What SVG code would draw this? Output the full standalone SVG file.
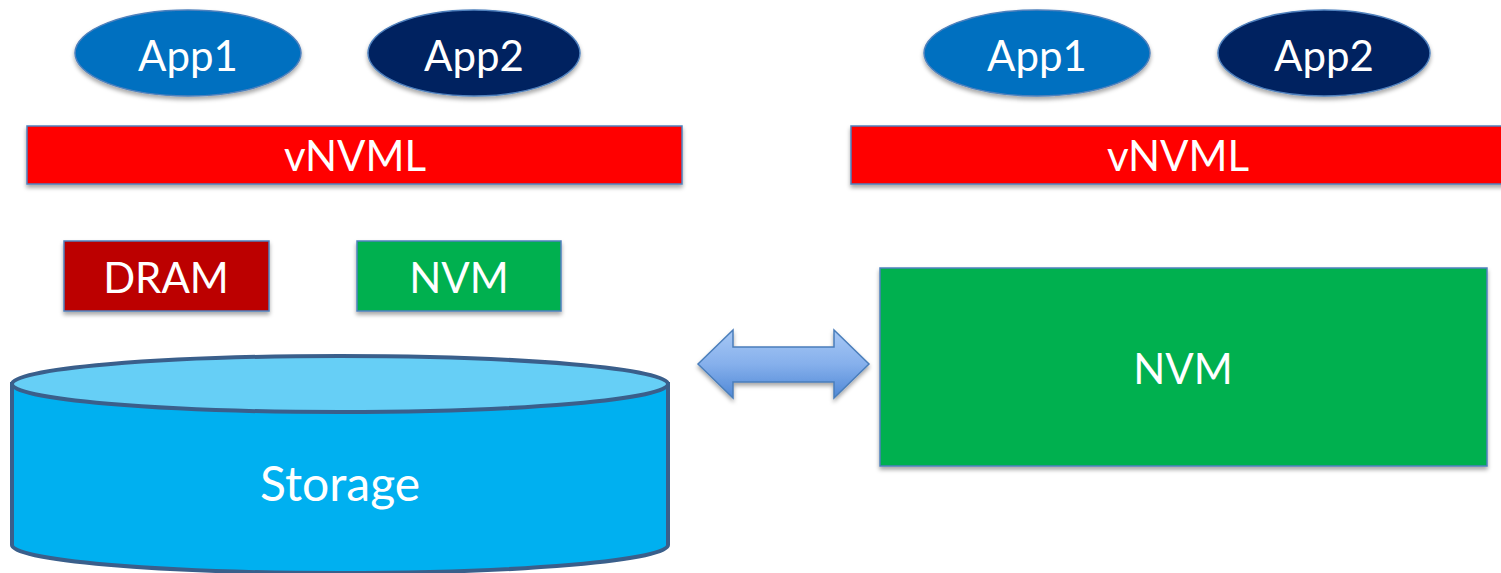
<svg xmlns="http://www.w3.org/2000/svg" width="1501" height="573" viewBox="0 0 1501 573">
  <defs>
    <filter id="shadow" x="-10%" y="-20%" width="120%" height="150%">
      <feDropShadow dx="0" dy="3" stdDeviation="2" flood-color="#000" flood-opacity="0.35"/>
    </filter>
    <linearGradient id="arrowFill" x1="0" y1="0" x2="0" y2="1">
      <stop offset="0" stop-color="#a7c8f5"/>
      <stop offset="0.5" stop-color="#86b0ec"/>
      <stop offset="1" stop-color="#4f88d6"/>
    </linearGradient>
  </defs>
  <style>
    .lbl { font-family: Lato, "Open Sans", "Liberation Sans", sans-serif; font-size: 42px; fill: #ffffff; text-anchor: middle; }
    .box { stroke: #4f81bd; stroke-width: 1.5; filter: url(#shadow); }
    .app1 { fill: #0070c0; }
    .app2 { fill: #002060; }
    .red { fill: #ff0000; }
    .dram { fill: #bc0000; }
    .nvm { fill: #00b050; }
  </style>

  <!-- left stack -->
  <g id="app1-left">
    <ellipse class="box app1" cx="188" cy="53" rx="113" ry="43"/>
    <text class="lbl" x="188" y="71">App1</text>
  </g>
  <g id="app2-left">
    <ellipse class="box app2" cx="474" cy="53" rx="106" ry="43"/>
    <text class="lbl" x="474" y="71">App2</text>
  </g>
  <g id="vnvml-left">
    <rect class="box red" x="27" y="126" width="655" height="58"/>
    <text class="lbl" x="355" y="171">vNVML</text>
  </g>
  <g id="dram">
    <rect class="box dram" x="64" y="241" width="205" height="70"/>
    <text class="lbl" x="166" y="293">DRAM</text>
  </g>
  <g id="nvm-small">
    <rect class="box nvm" x="357" y="241" width="204" height="70"/>
    <text class="lbl" x="459" y="293">NVM</text>
  </g>
  <g id="storage">
    <path d="M12 384 L12 545 A328 28 0 0 0 668 545 L668 384 Z" fill="#00b0f0" stroke="#3a5f8b" stroke-width="4"/>
    <ellipse cx="340" cy="384" rx="328" ry="28" fill="#66cff6" stroke="#3a5f8b" stroke-width="4"/>
    <text class="lbl" x="340" y="501" style="font-size:48px">Storage</text>
  </g>

  <!-- right stack -->
  <g id="app1-right">
    <ellipse class="box app1" cx="1037" cy="53" rx="113" ry="43"/>
    <text class="lbl" x="1037" y="71">App1</text>
  </g>
  <g id="app2-right">
    <ellipse class="box app2" cx="1324" cy="53" rx="106" ry="43"/>
    <text class="lbl" x="1324" y="71">App2</text>
  </g>
  <g id="vnvml-right">
    <rect class="box red" x="851" y="126" width="660" height="58"/>
    <text class="lbl" x="1178" y="171">vNVML</text>
  </g>
  <g id="nvm-large">
    <rect class="box nvm" x="880" y="268" width="607" height="198"/>
    <text class="lbl" x="1183" y="384">NVM</text>
  </g>

  <!-- connectors -->
  <g id="connectors">
    <path d="M698 364 L733 330 L733 347 L834 347 L834 330 L869 364 L834 398 L834 382 L733 382 L733 398 Z" fill="url(#arrowFill)" stroke="#4a7ebb" stroke-width="1.5" filter="url(#shadow)"/>
  </g>
</svg>
